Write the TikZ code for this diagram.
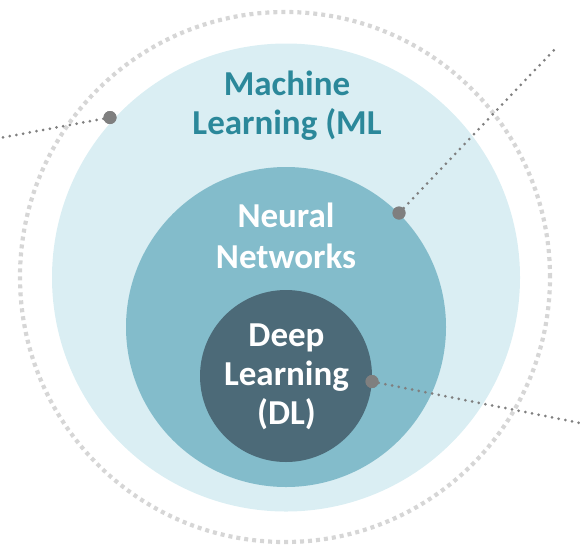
\documentclass[tikz,border=0pt]{standalone}
\usepackage{fontspec}
\setmainfont{Carlito}
\definecolor{mllight}{HTML}{DAEEF3}
\definecolor{nnmid}{HTML}{83BCCB}
\definecolor{dldark}{HTML}{4C6A78}
\definecolor{mltext}{HTML}{2B889A}
\definecolor{ringgray}{HTML}{D6D6D6}
\definecolor{dotgray}{HTML}{7F7F7F}
\tikzset{
  disc/.style={circle, draw=none, inner sep=0pt, minimum size=#1},
  lbl/.style={font=\bfseries\fontsize{35}{39}\selectfont, anchor=base, inner sep=0pt},
  pin/.style={circle, fill=dotgray, draw=none, inner sep=0pt, minimum size=13pt},
  leader/.style={draw=dotgray, line width=3pt, line cap=round, dash pattern=on 0pt off 6.8pt},
  ring/.style={draw=ringgray, line width=4.2pt, dash pattern=on 4pt off 4pt}
}
\begin{document}
\begin{tikzpicture}[x=1pt, y=-1pt]
\useasboundingbox (0,0) rectangle (580,544);
% circles
\node[disc=468pt, fill=mllight] (ml) at (286,277.5) {};
\node[disc=320pt, fill=nnmid] (nn) at (286,327) {};
\node[disc=172pt, fill=dldark] (dl) at (286,376) {};
% outer dotted ring
\node[disc=530pt, ring] (outer) at (285,277) {};
% labels
\node[lbl, text=mltext] (ml1) at (287,95) {Machine};
\node[lbl, text=mltext] (ml2) at (287,134.5) {Learning (ML};
\node[lbl, text=white] (nn1) at (286,227.5) {Neural};
\node[lbl, text=white] (nn2) at (286,268) {Networks};
\node[lbl, text=white] (dl1) at (286.5,346.5) {Deep};
\node[lbl, text=white] (dl2) at (286.5,385.5) {Learning};
\node[lbl, text=white] (dl3) at (286.5,424) {(DL)};
% leader ends
\coordinate (e1) at (0,138);
\coordinate (e2) at (554,50);
\coordinate (e3) at (580,423);
% pins
\node[pin] (p1) at (110,117.5) {};
\node[pin] (p2) at (399,213) {};
\node[pin] (p3) at (372,381.5) {};
\draw[leader] (p1.center) -- (e1);
\draw[leader] (p2.center) -- (e2);
\draw[leader] (p3.center) -- (e3);
\node[pin] at (p1) {};
\node[pin] at (p2) {};
\node[pin] at (p3) {};
\end{tikzpicture}
\end{document}
